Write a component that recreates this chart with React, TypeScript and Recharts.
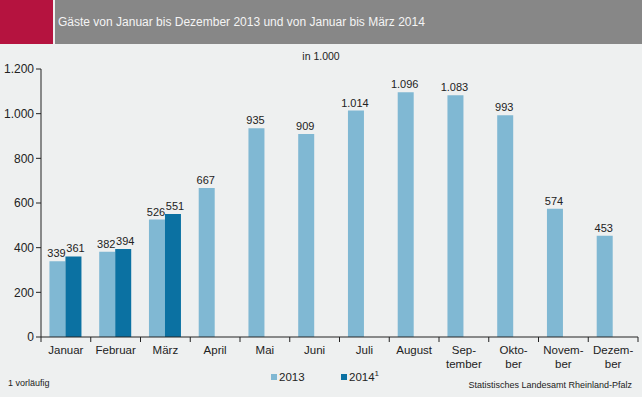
import { BarChart, Bar, XAxis, YAxis, LabelList, Legend } from "recharts";

const months = ["Januar", "Februar", "März", "April", "Mai", "Juni", "Juli", "August", "Sep-tember", "Okto-ber", "Novem-ber", "Dezem-ber"];
const gaeste2013 = [339, 382, 526, 667, 935, 909, 1014, 1096, 1083, 993, 574, 453];
const gaeste2014 = [361, 394, 551, null, null, null, null, null, null, null, null, null];
const yTicks = [0, 200, 400, 600, 800, 1000, 1200];

const data = months.map((m, i) => ({ month: m, y2013: gaeste2013[i], y2014: gaeste2014[i] }));

const W = 642;
const H = 397;
const LEFT = 41;
const RIGHT = 4;
const band = (W - LEFT - RIGHT) / months.length;
const font = "'Liberation Sans', Arial, sans-serif";
const light = "#80b8d3";
const dark = "#0b71a2";

const fmt = (v: any) => {
  if (v == null) return "";
  return String(v).replace(/\B(?=(\d{3})+(?!\d))/g, ".");
};

const MonthTick = (props: any) => {
  const { x, y, payload, index } = props;
  const parts = String(payload.value).split("-");
  const last = index === months.length - 1;
  return (
    <g>
      <line x1={x - band / 2} y1={y - 8} x2={x - band / 2} y2={y - 3} stroke="#222" />
      {last && <line x1={x + band / 2} y1={y - 8} x2={x + band / 2} y2={y - 3} stroke="#222" />}
      <text x={x} y={y + 9} textAnchor="middle" fontSize={11.5} fill="#222" fontFamily={font}>
        {parts.map((p, i) => (
          <tspan key={i} x={x} dy={i === 0 ? 0 : 13.5}>
            {p + (i < parts.length - 1 ? "-" : "")}
          </tspan>
        ))}
      </text>
    </g>
  );
};

const renderLegend = () => (
  <div style={{ display: "flex", fontFamily: font, fontSize: 11.5, color: "#222", paddingLeft: 271 }}>
    <span style={{ display: "flex", alignItems: "center", width: 70 }}>
      <span style={{ width: 6, height: 6, background: light, marginRight: 2 }} />
      2013
    </span>
    <span style={{ display: "flex", alignItems: "center" }}>
      <span style={{ width: 6, height: 6, background: dark, marginRight: 2 }} />
      2014<sup style={{ fontSize: 8, marginTop: -7 }}>1</sup>
    </span>
  </div>
);

export default function App() {
  return (
    <div style={{ position: "absolute", left: 0, top: 0, width: W, height: H, background: "#eef0f0", overflow: "hidden" }}>
      <div style={{ position: "absolute", left: 0, top: 0, width: 53, height: 44, background: "#b5133f" }} />
      <div style={{ position: "absolute", left: 55, top: 0, width: W - 55, height: 44, background: "#878787" }} />
      <div style={{ position: "absolute", left: 58, top: 15, color: "#f4f4f4", fontFamily: font, fontSize: 12 }}>
        Gäste von Januar bis Dezember 2013 und von Januar bis März 2014
      </div>
      <div style={{ position: "absolute", left: 0, width: W, top: 50, textAlign: "center", fontFamily: font, fontSize: 10.5, color: "#222" }}>
        in 1.000
      </div>
      <div style={{ position: "absolute", left: 8, top: 378, fontFamily: font, fontSize: 9, color: "#222" }}>1 vorläufig</div>
      <div style={{ position: "absolute", right: 10, top: 380, fontFamily: font, fontSize: 9, color: "#222" }}>
        Statistisches Landesamt Rheinland-Pfalz
      </div>
      <div style={{ position: "absolute", left: 0, top: 0 }}>
        <BarChart
          width={W}
          height={H}
          data={data}
          margin={{ top: 69, right: RIGHT, left: 0, bottom: 8 }}
          barCategoryGap="17%"
          barGap={0}
        >
          <YAxis
            width={LEFT}
            domain={[0, 1200]}
            ticks={yTicks}
            tickFormatter={fmt}
            tick={{ fontSize: 12, fill: "#222", fontFamily: font }}
            axisLine={{ stroke: "#222" }}
            tickLine={{ stroke: "#222" }}
            tickSize={5}
            tickMargin={2}
            interval={0}
          />
          <XAxis
            dataKey="month"
            height={40}
            interval={0}
            axisLine={{ stroke: "#222" }}
            tickLine={false}
            tick={<MonthTick />}
          />
          <Legend verticalAlign="bottom" content={renderLegend} wrapperStyle={{ bottom: 14, left: 0, width: W }} />
          <Bar dataKey="y2013" name="2013" fill={light} isAnimationActive={false}>
            <LabelList dataKey="y2013" position="top" offset={4} dx={-1} formatter={fmt} style={{ fontSize: 11, fill: "#222", fontFamily: font }} />
          </Bar>
          <Bar dataKey="y2014" name="2014" fill={dark} isAnimationActive={false}>
            <LabelList dataKey="y2014" position="top" offset={4} dx={2} formatter={fmt} style={{ fontSize: 11, fill: "#222", fontFamily: font }} />
          </Bar>
        </BarChart>
      </div>
    </div>
  );
}
